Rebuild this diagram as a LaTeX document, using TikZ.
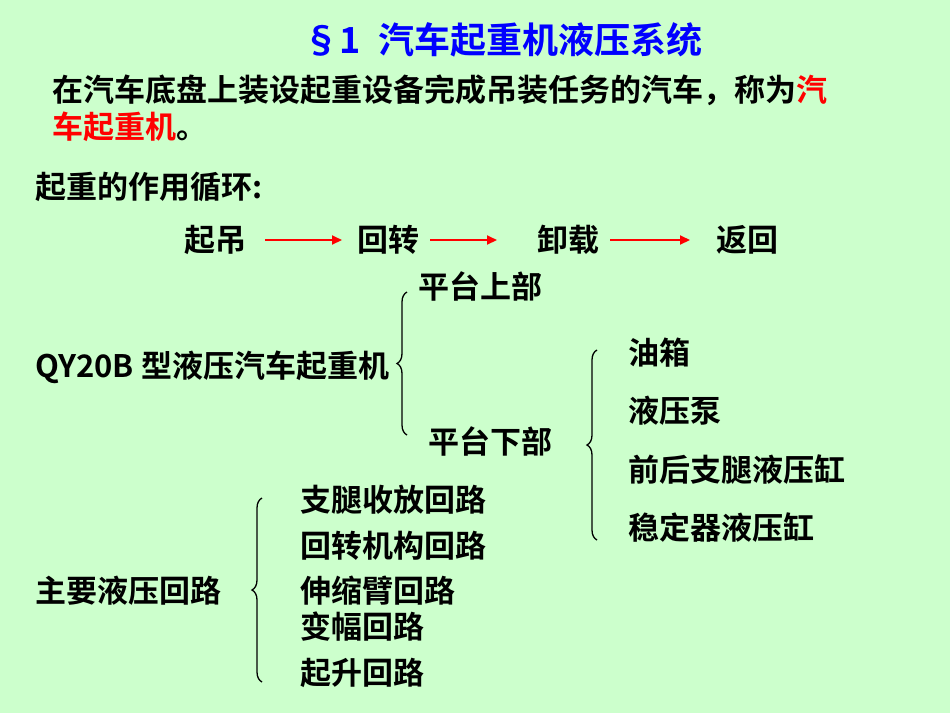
\documentclass[tikz,border=0pt]{standalone}
\usepackage{fontspec}
\setmainfont{Noto Sans CJK SC}[BoldFont={* Bold}]
\usetikzlibrary{decorations.pathreplacing,arrows.meta}
\definecolor{bg}{RGB}{204,255,204}
\tikzset{
 txt/.style={anchor=west,inner sep=0pt,font=\fontsize{31}{34}\selectfont\bfseries},
 itm/.style={anchor=center,inner sep=0pt,font=\fontsize{31}{34}\selectfont\bfseries},
 redarr/.style={red,line width=2pt,-{Triangle[length=10pt,width=9pt]}},
 brc/.style={decorate,decoration={brace,amplitude=10pt},line width=1.3pt}
}
\begin{document}
\begin{tikzpicture}[x=1pt,y=-1pt]
\fill[bg] (0,0) rectangle (950,713);
\useasboundingbox (0,0) rectangle (950,713);
\node[anchor=west,inner sep=0pt,blue,font=\fontsize{36}{40}\selectfont\bfseries] (title) at (303,40) {§1\hspace{18pt}汽车起重机液压系统};
\node[txt] (l1) at (52,90) {在汽车底盘上装设起重设备完成吊装任务的汽车，称为\textcolor{red}{汽}};
\node[txt] (l2) at (52,127) {\textcolor{red}{车起重机}。};
\node[txt] (cyc) at (35,187) {起重的作用循环:};
\node[itm] (a) at (215,240) {起吊};
\node[itm] (b) at (388,240) {回转};
\node[itm] (c) at (568,240) {卸载};
\node[itm] (d) at (747,240) {返回};
\draw[redarr] (265,240) -- (342,240);
\draw[redarr] (430,240) -- (497,240);
\draw[redarr] (610,240) -- (690,240);
\node[txt] (qy) at (35,367) {QY20B 型液压汽车起重机};
\node[txt] (up) at (418,286) {平台上部};
\node[txt] (dn) at (428,441) {平台下部};
\draw[brc] (407,435) -- (407,292);
\node[txt] (o1) at (628,353) {油箱};
\node[txt] (o2) at (628,411) {液压泵};
\node[txt] (o3) at (628,470) {前后支腿液压缸};
\node[txt] (o4) at (628,528) {稳定器液压缸};
\draw[brc] (597,540) -- (597,350);
\node[txt] (m) at (35,591) {主要液压回路};
\node[txt] (h1) at (300,500) {支腿收放回路};
\node[txt] (h2) at (300,546) {回转机构回路};
\node[txt] (h3) at (300,591) {伸缩臂回路};
\node[txt] (h4) at (300,627) {变幅回路};
\node[txt] (h5) at (300,673) {起升回路};
\draw[brc] (262,682) -- (262,498);
\end{tikzpicture}
\end{document}
